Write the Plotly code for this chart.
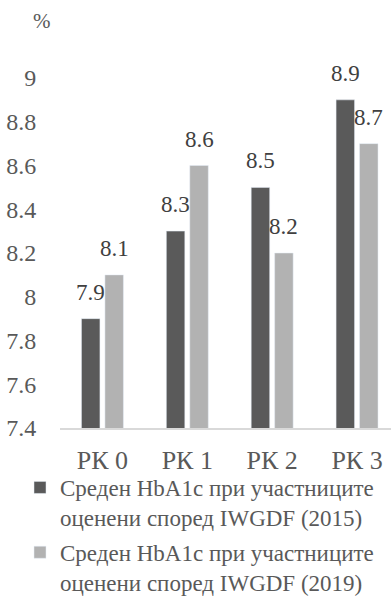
import plotly.graph_objects as go

categories = ["РК 0", "РК 1", "РК 2", "РК 3"]
hba1c_2015 = [7.9, 8.3, 8.5, 8.9]
hba1c_2019 = [8.1, 8.6, 8.2, 8.7]
series_names = [
    "Среден HbA1c при участниците<br>оценени според IWGDF (2015)",
    "Среден HbA1c при участниците<br>оценени според IWGDF (2019)",
]
y_ticks = [7.4, 7.6, 7.8, 8.0, 8.2, 8.4, 8.6, 8.8, 9.0]
y_ticktext = ["7.4", "7.6", "7.8", "8", "8.2", "8.4", "8.6", "8.8", "9"]

dark = "#5a5a5a"
light = "#b2b2b2"
text_grey = "#595959"
font_family = "Liberation Serif, Times New Roman, serif"

W, H = 391, 597
M_L, M_R, M_T, M_B = 60, 0, 78, 169
BARGAP = 0.447
BARGROUPGAP = 0.213

fig = go.Figure()
fig.add_trace(go.Bar(x=categories, y=hba1c_2015, name=series_names[0],
                     marker_color=dark, legendgroup="a"))
fig.add_trace(go.Bar(x=categories, y=hba1c_2019, name=series_names[1],
                     marker_color=light, legendgroup="b"))

# value labels above each bar, shifted to the bar's slot within the group
half_slot = (1 - BARGAP) / 4
for series, shift in ((hba1c_2015, -half_slot), (hba1c_2019, half_slot)):
    for i, v in enumerate(series):
        fig.add_annotation(x=i + shift, y=v, xref="x", yref="y",
                           text=f"{v:g}", showarrow=False,
                           yanchor="bottom", yshift=12,
                           font=dict(family=font_family, size=23, color="#404040"))

# unit label above the value axis
plot_w = W - M_L - M_R
plot_h = H - M_T - M_B
fig.add_annotation(xref="paper", yref="paper",
                   x=(41.5 - M_L) / plot_w, y=(H - M_B - 21) / plot_h,
                   text="%", showarrow=False, xanchor="center", yanchor="middle",
                   font=dict(family=font_family, size=21, color=text_grey))

fig.update_layout(
    width=W, height=H,
    margin=dict(l=M_L, r=M_R, t=M_T, b=M_B, autoexpand=False),
    paper_bgcolor="white", plot_bgcolor="white",
    barmode="group", bargap=BARGAP, bargroupgap=BARGROUPGAP,
    font=dict(family=font_family, color=text_grey),
    showlegend=True,
    legend=dict(
        orientation="v", xref="container", yref="container",
        x=20 / W, y=1 - 466 / H, xanchor="left", yanchor="top",
        font=dict(family=font_family, size=23, color=text_grey),
        valign="top", traceorder="grouped", tracegroupgap=2,
        bgcolor="rgba(0,0,0,0)",
    ),
    xaxis=dict(
        type="category", range=[-0.5, 3.4], automargin=False,
        showline=True, linecolor="#d9d9d9", linewidth=2,
        ticks="outside", ticklen=8, tickcolor="rgba(0,0,0,0)",
        tickfont=dict(family=font_family, size=26, color=text_grey),
        tickangle=0,
        showgrid=False, zeroline=False,
    ),
    yaxis=dict(
        range=[7.4, 9.0], tickvals=y_ticks, ticktext=y_ticktext,
        automargin=False,
        showgrid=False, zeroline=False, showline=False,
        ticks="outside", ticklen=18, tickcolor="rgba(0,0,0,0)",
        tickfont=dict(family=font_family, size=24, color=text_grey),
    ),
)

fig.write_html("out.html")
